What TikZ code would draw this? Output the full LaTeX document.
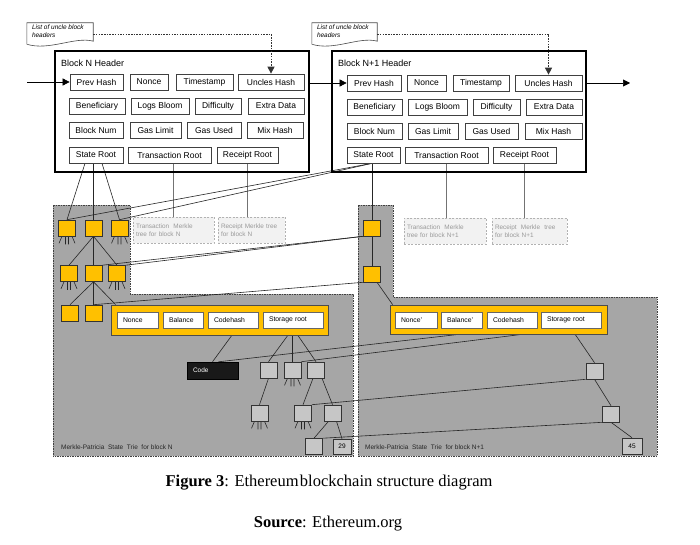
\documentclass[tikz,border=0pt]{standalone}
\usepackage{fontspec}
\setmainfont{Liberation Serif}
\setsansfont{Liberation Sans}
\usetikzlibrary{arrows.meta,calc}
\definecolor{ygold}{HTML}{FFC000}
\definecolor{triegray}{HTML}{A6A6A6}
\definecolor{nodegray}{HTML}{C6C6C6}
\definecolor{mtfill}{HTML}{F2F2F2}
\pgfdeclarelayer{bglayer}
\pgfdeclarelayer{edgelayer}
\pgfsetlayers{bglayer,edgelayer,main}
\newcommand\fanout[1]{%
  \draw[edge] ($(#1.south)+(-5,0)$) -- ++(-3,7)
              ($(#1.south)+(-1.5,0)$) -- ++(0,8)
              ($(#1.south)+(1.5,0)$) -- ++(0,8)
              ($(#1.south)+(5,0)$) -- ++(3,7);}
\begin{document}
\begin{tikzpicture}[x=1pt,y=-1pt,
  hdr/.style={draw=black!75, line width=0.7pt, fill=white, font=\sffamily\fontsize{8.5}{10}\selectfont,
    inner sep=0pt, minimum height=16pt},
  outer/.style={draw=black, line width=1.6pt, inner sep=0pt},
  ttl/.style={font=\sffamily\fontsize{9}{10}\selectfont, inner sep=0pt, anchor=west},
  ynode/.style={draw=black!80, line width=0.6pt, fill=ygold, minimum width=17pt, minimum height=16pt, inner sep=0pt},
  gnode/.style={draw=black!80, line width=0.6pt, fill=nodegray, minimum width=17pt, minimum height=16pt, inner sep=0pt,
    font=\sffamily\fontsize{6.5}{8}\selectfont},
  acc/.style={draw=black!70, line width=0.8pt, fill=ygold, minimum height=30pt, inner sep=0pt},
  fld/.style={draw=black!60, line width=0.6pt, fill=white, minimum height=16pt, inner xsep=6pt, inner ysep=0pt,
    align=left, font=\sffamily\fontsize{6.8}{8}\selectfont},
  mt/.style={draw=black!30, line width=0.6pt, dash pattern=on 2pt off 1.5pt, fill=mtfill, text=black!40,
    minimum height=26pt, inner xsep=3pt, inner ysep=0pt, align=left, font=\sffamily\fontsize{6.4}{8}\selectfont},
  region/.style={fill=triegray, draw=black!75, line width=0.6pt, dash pattern=on 1.5pt off 1pt},
  edge/.style={draw=black!85, line width=0.6pt},
  link/.style={draw=black!55, line width=1pt},
  dotarrow/.style={draw=black!80, line width=0.9pt, dash pattern=on 1.5pt off 1.2pt, -{Triangle[length=7pt,width=7pt]}},
  arr/.style={draw=black, line width=0.6pt, -{Triangle[length=7pt,width=7pt]}},
  noteshape/.style={draw=black!70, fill=white, line width=0.6pt},
  notetxt/.style={font=\sffamily\itshape\fontsize{6.5}{7.8}\selectfont, align=left, inner sep=0pt, anchor=north west},
  trielbl/.style={font=\sffamily\fontsize{6.5}{8}\selectfont, text=black!85, inner sep=0pt, anchor=west},
  codebox/.style={draw=black, fill=black!90, text=white, minimum height=17pt, inner xsep=6pt, inner ysep=0pt,
    align=left, font=\sffamily\fontsize{6.5}{8}\selectfont},
]
\useasboundingbox (0,0) rectangle (700,545);
\begin{pgfonlayer}{bglayer}
  \fill[white] (0,0) rectangle (700,545);
  \draw[region] (53,205) -- (130,205) -- (130,294) -- (353,294) -- (353,456) -- (53,456) -- cycle;
  \draw[region] (358,205) -- (393,205) -- (393,297) -- (657,297) -- (657,456) -- (358,456) -- cycle;
\end{pgfonlayer}

% ---------------- Block N header ----------------
\node[outer, minimum width=254pt, minimum height=121pt] (hdrN) at (182,111.5) {};
\node[ttl] (ttlN) at (61,63) {Block N Header};
\node[hdr, minimum width=53pt] (pvN) at (96.5,82) {Prev Hash};
\node[hdr, minimum width=38pt] (ncN) at (149,82) {Nonce};
\node[hdr, minimum width=57pt] (tsN) at (204.5,82) {Timestamp};
\node[hdr, minimum width=66pt] (unN) at (271,82) {Uncles Hash};
\node[hdr, minimum width=56pt] (bfN) at (97,106) {Beneficiary};
\node[hdr, minimum width=58pt] (lbN) at (160,106) {Logs Bloom};
\node[hdr, minimum width=46pt] (dfN) at (218,106) {Difficulty};
\node[hdr, minimum width=56pt] (edN) at (276,106) {Extra Data};
\node[hdr, minimum width=54pt] (bnN) at (96,130) {Block Num};
\node[hdr, minimum width=51pt] (glN) at (155.5,130) {Gas Limit};
\node[hdr, minimum width=54pt] (guN) at (214,130) {Gas Used};
\node[hdr, minimum width=56pt] (mhN) at (275,130) {Mix Hash};
\node[hdr, minimum width=54pt] (srN) at (96,155) {State Root};
\node[hdr, minimum width=83pt] (trN) at (169.5,155) {Transaction Root};
\node[hdr, minimum width=61pt] (rrN) at (247.5,155) {Receipt Root};

% ---------------- Block N+1 header ----------------
\node[outer, minimum width=254pt, minimum height=121pt] (hdrN1) at (459,111.5) {};
\node[ttl] (ttlN1) at (338,63) {Block N+1 Header};
\node[hdr, minimum width=54pt] (pvN1) at (374,83) {Prev Hash};
\node[hdr, minimum width=39pt] (ncN1) at (426.5,83) {Nonce};
\node[hdr, minimum width=56pt] (tsN1) at (481,83) {Timestamp};
\node[hdr, minimum width=67pt] (unN1) at (548.5,83) {Uncles Hash};
\node[hdr, minimum width=55pt] (bfN1) at (374.5,107) {Beneficiary};
\node[hdr, minimum width=59pt] (lbN1) at (437.5,107) {Logs Bloom};
\node[hdr, minimum width=47pt] (dfN1) at (496.5,107) {Difficulty};
\node[hdr, minimum width=56pt] (edN1) at (554,107) {Extra Data};
\node[hdr, minimum width=55pt] (bnN1) at (374.5,131) {Block Num};
\node[hdr, minimum width=50pt] (glN1) at (433,131) {Gas Limit};
\node[hdr, minimum width=53pt] (guN1) at (491.5,131) {Gas Used};
\node[hdr, minimum width=57pt] (mhN1) at (553.5,131) {Mix Hash};
\node[hdr, minimum width=53pt] (srN1) at (373.5,155) {State Root};
\node[hdr, minimum width=83pt] (trN1) at (446.5,155) {Transaction Root};
\node[hdr, minimum width=63pt] (rrN1) at (524.5,155) {Receipt Root};

% ---------------- uncle notes ----------------
\node[minimum width=66pt, minimum height=22pt, inner sep=0pt] (noteN) at (60,34) {};
\draw[noteshape] (noteN.north west) -- (noteN.north east) -- ($(noteN.south east)+(0,-4)$)
  .. controls ($(noteN.south east)+(-18,-9)$) and ($(noteN.south west)+(22,6)$) .. ($(noteN.south west)+(0,-1)$) -- cycle;
\node[notetxt] (noteNt) at ($(noteN.north west)+(5,2)$) {List of uncle block\\headers};
\node[minimum width=65pt, minimum height=22pt, inner sep=0pt] (noteN1) at (344.5,34) {};
\draw[noteshape] (noteN1.north west) -- (noteN1.north east) -- ($(noteN1.south east)+(0,-4)$)
  .. controls ($(noteN1.south east)+(-18,-9)$) and ($(noteN1.south west)+(22,6)$) .. ($(noteN1.south west)+(0,-1)$) -- cycle;
\node[notetxt] (noteN1t) at ($(noteN1.north west)+(5,2)$) {List of uncle block\\headers};

\draw[dotarrow] (noteN.east) -| (unN.north);
\draw[dotarrow] (noteN1.east) -| (unN1.north);

% chain arrows
\coordinate (inN) at (27,82);
\coordinate (outN1) at (630,83);
\draw[arr] (inN) -- (pvN.west);
\draw[arr] (hdrN.east |- pvN1.west) -- (pvN1.west);
\draw[arr] (hdrN1.east |- outN1) -- (outN1);

% ---------------- merkle tree placeholders ----------------
\node[mt, text width=75pt] (tmN) at (173.5,230) {Transaction\ \ Merkle\\tree for block N};
\node[mt, text width=61pt] (rmN) at (251.5,230) {Receipt Merkle tree\\for block N};
\node[mt, text width=76pt] (tmN1) at (445,231) {Transaction\ \ Merkle\\tree for block N+1};
\node[mt, text width=69pt] (rmN1) at (529.5,231) {Receipt\ \ Merkle\ \ tree\\for block N+1};

% ---------------- state trie N ----------------
\node[ynode] (a1) at (67,228) {};
\node[ynode] (a2) at (93.5,228) {};
\node[ynode] (a3) at (119.5,228) {};
\node[ynode] (b1) at (69,273.5) {};
\node[ynode] (b2) at (93.5,273.5) {};
\node[ynode] (b3) at (117,273.5) {};
\node[ynode] (c1) at (70,313) {};
\node[ynode] (c2) at (93.5,313) {};

\node[acc, minimum width=217pt] (accN) at (219.5,320) {};
\node[fld, text width=29pt] (ncaN) at (137.5,320) {Nonce};
\node[fld, text width=28pt] (blN) at (183,320) {Balance};
\node[fld, text width=38pt] (chN) at (233,320) {Codehash};
\node[fld, text width=48pt] (stN) at (293,320) {Storage root};

\node[codebox, text width=39pt] (code) at (212.5,370.5) {Code};
\node[gnode] (s1) at (268.5,370) {};
\node[gnode] (s2) at (292.5,370) {};
\node[gnode] (s3) at (316,370) {};
\node[gnode] (t1) at (259.5,413) {};
\node[gnode] (t2) at (303,413) {};
\node[gnode] (t3) at (332.5,413) {};
\node[gnode] (u1) at (314,446.5) {};
\node[gnode, minimum width=18pt, minimum height=15pt] (n29) at (342,446.5) {29};
\node[trielbl] (lblN) at (61,447) {Merkle-Patricia\ \ State\ \ Trie\ \ for block N};

% ---------------- state trie N+1 ----------------
\node[ynode] (d1) at (372,228) {};
\node[ynode] (d2) at (372,274) {};
\node[acc, minimum width=217pt, minimum height=29pt] (accN1) at (498.5,319.5) {};
\node[fld, text width=30pt] (ncaN1) at (416,320) {Nonce'};
\node[fld, text width=29pt] (blN1) at (461.5,320) {Balance'};
\node[fld, text width=38pt] (chN1) at (512,320) {Codehash};
\node[fld, text width=48pt] (stN1) at (571,320) {Storage root};
\node[gnode] (v1) at (594.5,371) {};
\node[gnode] (v2) at (611,414) {};
\node[gnode, minimum width=20pt] (n45) at (632,446) {45};
\node[trielbl] (lblN1) at (365,447) {Merkle-Patricia\ \ State\ \ Trie\ \ for block N+1};

% ---------------- caption ----------------
\node[font=\fontsize{16.5}{19}\selectfont, inner sep=0pt] (cap) at (329,483)
  {\textbf{Figure 3}: Ethereum\hspace{0.08em}blockchain structure diagram};
\node[font=\fontsize{16.5}{19}\selectfont, inner sep=0pt] (src) at (328,524)
  {\textbf{Source}: Ethereum.org};

% ---------------- edges ----------------
\begin{pgfonlayer}{edgelayer}
  % header to merkle placeholders
  \draw[link] (trN.south -| tmN.north) -- (tmN.north);
  \draw[link] (rrN.south) -- (rrN.south |- rmN.north);
  \draw[link] (trN1.south) -- (trN1.south |- tmN1.north);
  \draw[link] (rrN1.south) -- (rrN1.south |- rmN1.north);
  % state trie N
  \draw[edge] ($(srN.south)+(-11,0)$) -- (a1.north);
  \draw[edge] (srN.south -| a2.north) -- (a2.north);
  \draw[edge] ($(srN.south)+(6,0)$) -- (a3.north);
  \draw[edge] (a2.south) -- (b1.north);
  \draw[edge] (a2.south) -- (b2.north);
  \draw[edge] (a2.south) -- (b3.north);
  \draw[edge] (b2.south) -- (c1.north);
  \draw[edge] (b2.south) -- (c2.north);
  \draw[edge] (b2.south) -- ($(accN.north west)+(5,0)$);
  \fanout{a1}\fanout{a3}\fanout{b1}\fanout{b3}
  % state trie N+1 and its links into trie N
  \draw[edge] (srN1.south -| d1.north) -- (d1.north);
  \draw[edge] (d1.south) -- (d2.north);
  \draw[edge] ($(d2.south)+(5,0)$) -- ($(accN1.north west)+(3,0)$);
  \draw[edge] (srN1.south -| d1.north) -- (a1.north);
  \draw[edge] (srN1.south -| d1.north) -- (a3.north);
  \draw[edge] (d1.south west) -- (b2.north east);
  \draw[edge] (d1.south west) -- (b3.north east);
  \draw[edge] (d2.south west) -- (c2.north);
  % account N
  \draw[edge] ($(chN.south)+(4,0)$) -- (code.north);
  \draw[edge] (stN.south) -- (s1.north);
  \draw[edge, line width=1pt] (stN.south -| s2.north) -- (s2.north);
  \draw[edge] (stN.south) -- (s3.north);
  \draw[edge] (s1.south) -- (t1.north);
  \draw[edge] ($(s3.south)+(-3,0)$) -- (t2.north);
  \draw[edge] ($(s3.south)+(6,0)$) -- (t3.north);
  \draw[edge] ($(t3.south)+(-4,0)$) -- (u1.north);
  \draw[edge] ($(t3.south)+(4,0)$) -- (n29.north);
  \fanout{s2}\fanout{t1}\fanout{t2}
  % account N+1
  \draw[edge] (chN1.south) -- ($(code.north)+(6,0)$);
  \draw[edge] (stN1.south) -- (s2.north east);
  \draw[edge] (stN1.south) -- (v1.north);
  \draw[edge] (v1.south) -- (v2.north);
  \draw[edge] (v2.south) -- (n45.north);
  \draw[edge] (v1.south west) -- (t2.north east);
  \draw[edge] (v2.south west) -- (u1.north east);
\end{pgfonlayer}
\end{tikzpicture}
\end{document}
